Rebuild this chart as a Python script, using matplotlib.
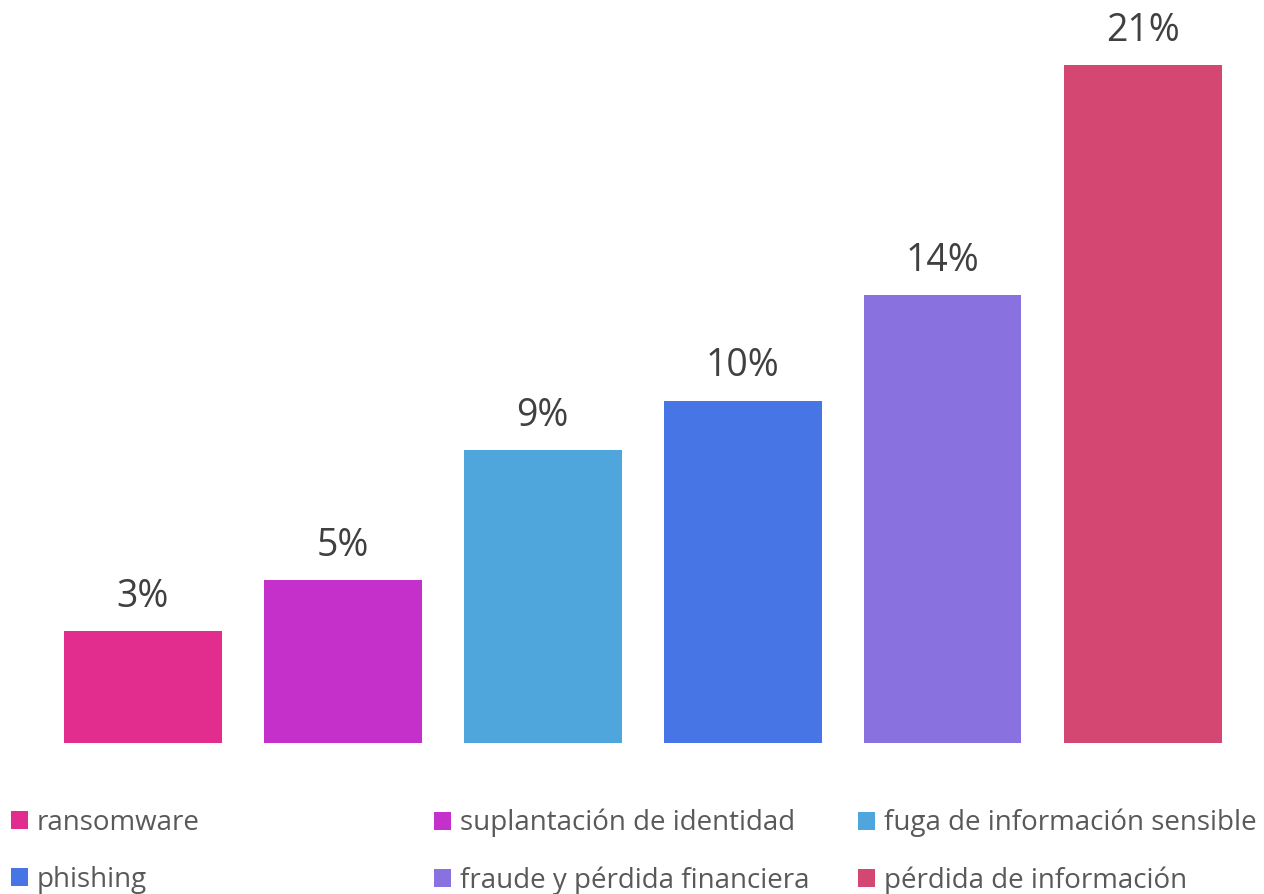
import matplotlib.pyplot as plt
import numpy as np

plt.rcParams['font.family'] = ['Open Sans', 'DejaVu Sans']

# data
categories = ['ransomware', 'suplantación de identidad', 'fuga de información sensible',
              'phishing', 'fraude y pérdida financiera', 'pérdida de información']
values = [3.4, 4.95, 8.9, 10.4, 13.6, 20.6]
labels = ['3%', '5%', '9%', '10%', '14%', '21%']
colors = ['#E22D8F', '#C52FCA', '#4EA6DD', '#4775E6', '#8972E0', '#D44772']

fig = plt.figure(figsize=(12.64, 8.94), dpi=100)
ax = fig.add_axes([42.5 / 1264, 151 / 894, 1200 / 1264, 724 / 894])

x = np.arange(len(categories))
bars = ax.bar(x, values, width=0.79, color=colors, label=categories)
ax.set_xlim(-0.5, len(categories) - 0.5)
ax.set_ylim(0, 22)
ax.axis('off')

for xi, v, lab in zip(x, values, labels):
    ax.annotate(lab, (xi, v), xytext=(0, 11), textcoords='offset points',
                ha='center', va='bottom', fontsize=27, color='#404040')

# legend: three equal-width columns
handles = list(bars)
col_x = [-3, 420, 844]
for c in range(3):
    idx = [c, c + 3]
    fig.legend([handles[i] for i in idx], [categories[i] for i in idx],
               loc='upper left', bbox_to_anchor=(col_x[c] / 1264, 1 - 795 / 894),
               frameon=False, fontsize=20, handlelength=0.63, handleheight=0.63,
               handletextpad=0.3, labelspacing=1.05, borderpad=0, labelcolor='#595959')

fig.savefig('out.png', dpi=100)
